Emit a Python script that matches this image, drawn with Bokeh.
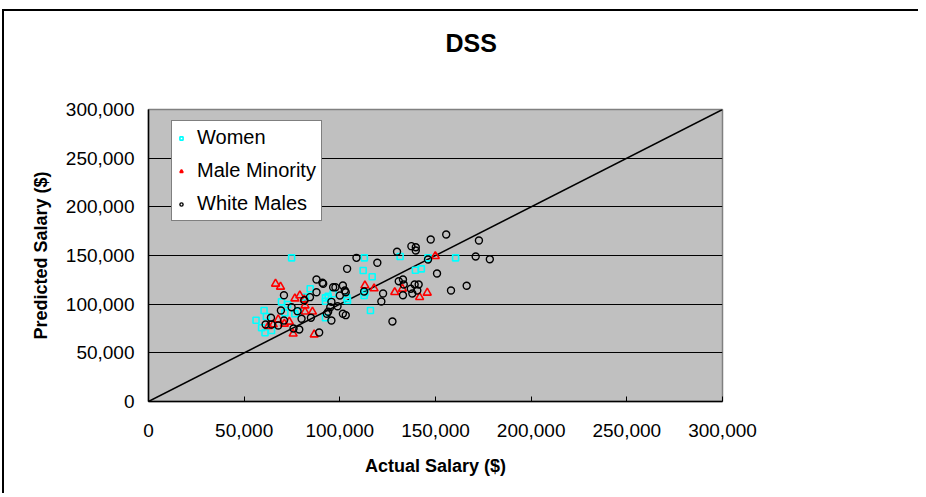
from bokeh.plotting import figure
from bokeh.models import (NumeralTickFormatter, SingleIntervalTicker, Range1d, Legend,
                          LegendItem, Title)
from bokeh.embed import file_html
from bokeh.resources import INLINE

FONT = "Liberation Sans"

women_actual = [74800, 112800, 112200, 116900, 84500, 113100, 112700, 93900, 92500, 92500,
                96500, 103700, 104000, 69500, 72700, 76500, 60400, 56200, 116000, 92500,
                71300, 59100, 60900, 64300, 131500, 146100, 160500, 139500, 142600, 82100,
                78300, 61600]
women_pred = [147600, 147600, 134600, 128100, 115800, 111700, 108900, 108200, 106500, 103000,
              110700, 106500, 103800, 102400, 99700, 90100, 93500, 83500, 93500, 86000,
              91100, 75700, 70600, 72900, 149000, 147600, 147600, 134900, 136300, 107200,
              92800, 87300]

minority_actual = [66400, 69000, 113100, 117900, 79100, 76500, 81400, 81800, 85700, 81800,
                   73600, 71000, 67800, 65200, 62600, 75600, 86600, 149900, 128700, 132700,
                   141700, 145700]
minority_pred = [120900, 117800, 119200, 116100, 108900, 105800, 104800, 98600, 92200, 92200,
                 81900, 79800, 84200, 79100, 77400, 69600, 68800, 149300, 112300, 115800,
                 107200, 111700]

white_actual = [108700, 103800, 119600, 87800, 90900, 96500, 97700, 101600, 102600, 103100,
                87800, 70800, 84400, 81400, 100000, 95600, 74800, 77900, 69200, 95000,
                98800, 93900, 93200, 101600, 103100, 64000, 80000, 84900, 95600, 70800,
                61200, 64300, 67800, 75800, 78800, 89200, 147500, 155600, 172700, 129900,
                137400, 139700, 139700, 171000, 178400, 146100, 150800, 130800, 133000, 133400,
                139100, 141200, 137100, 140500, 122600, 133000, 137900, 166300, 158100, 121700,
                127500, 112700, 91300]
white_pred = [147600, 136300, 142500, 125300, 122000, 117400, 117400, 119200, 114000, 112300,
              112300, 109200, 107200, 104100, 108900, 102400, 96900, 92800, 93500, 96900,
              97900, 92200, 90100, 90100, 88700, 86000, 85000, 86000, 83200, 83200,
              79100, 79100, 78100, 75000, 74000, 70900, 166400, 171600, 165400, 153800,
              159600, 158500, 155100, 149000, 146200, 145900, 131500, 123600, 125300, 120200,
              120200, 120200, 115800, 114000, 111000, 109200, 111000, 118900, 114000, 102700,
              82200, 113000, 120900]

diag_x = [0, 300000]
diag_y = [0, 300000]

p = figure(width=916, height=484, output_backend="svg", toolbar_location=None,
           x_range=Range1d(0, 300000), y_range=Range1d(0, 300000),
           min_border_left=144, min_border_right=198, min_border_top=98, min_border_bottom=94,
           background_fill_color="#C0C0C0", border_fill_color="white")

# spacer between the frame and the title (placed nearest the frame)
spacer = Title(text=" ", text_font=FONT, text_font_size="25px", standoff=18,
               text_color="white")
p.add_layout(spacer, "above")

p.title.text = "DSS"
p.title.align = "left"
p.title.offset = 297
p.title.text_font = FONT
p.title.text_font_size = "25px"
p.title.text_font_style = "bold"
p.title.text_color = "black"
p.title.standoff = 10

p.outline_line_color = "#808080"
p.outline_line_width = 1.5

ticker = SingleIntervalTicker(interval=50000)
for ax in (p.xaxis[0], p.yaxis[0]):
    ax.ticker = ticker
    ax.formatter = NumeralTickFormatter(format="0,0")
    ax.major_label_text_font = FONT
    ax.major_label_text_font_size = "19px"
    ax.major_label_text_color = "black"
    ax.axis_label_text_font = FONT
    ax.axis_label_text_font_size = "18px"
    ax.axis_label_text_font_style = "bold"
    ax.axis_label_text_color = "black"
    ax.axis_line_color = "black"
    ax.axis_line_width = 1.5
    ax.minor_tick_line_color = None
    ax.major_tick_line_color = "black"

p.xaxis.axis_label = "Actual Salary ($)"
p.yaxis.axis_label = "Predicted Salary ($)"
p.xaxis.major_tick_in = 5
p.xaxis.major_tick_out = 0
p.xaxis.major_label_standoff = 18
p.xaxis.axis_label_standoff = 16
p.yaxis.major_tick_in = 0
p.yaxis.major_tick_out = 0
p.yaxis.major_label_standoff = 10
p.yaxis.axis_label_standoff = 12

p.xgrid.grid_line_color = None
p.ygrid.ticker = ticker
p.ygrid.grid_line_color = "black"
p.ygrid.grid_line_width = 1

p.line(diag_x, diag_y, line_color="black", line_width=1.5)

r_w = p.scatter(women_actual, women_pred, marker="square", size=6, fill_color=None,
                line_color="#00FFFF", line_width=1.6)
r_m = p.scatter(minority_actual, minority_pred, marker="triangle", size=8, fill_color=None,
                line_color="#FF0000", line_width=1.6)
r_b = p.scatter(white_actual, white_pred, marker="circle", size=7, fill_color=None,
                line_color="black", line_width=1.4)

legend = Legend(items=[LegendItem(label="Women", renderers=[r_w]),
                       LegendItem(label="Male Minority", renderers=[r_m]),
                       LegendItem(label="White Males", renderers=[r_b])],
                location=(23, 180))
legend.label_text_font = FONT
legend.label_text_font_size = "20px"
legend.label_text_color = "black"
legend.label_height = 20
legend.glyph_height = 20
legend.glyph_width = 8
legend.label_standoff = 12
legend.spacing = 10
legend.padding = 5
legend.margin = 0
legend.border_line_color = "black"
legend.border_line_width = 1.2
legend.background_fill_color = "white"
legend.background_fill_alpha = 1.0
p.add_layout(legend, "center")

p.styles = {"border-left": "2px solid black", "border-top": "2px solid black",
            "margin-left": "2px", "margin-top": "9px"}

open("out.html", "w").write(file_html(p, INLINE))
